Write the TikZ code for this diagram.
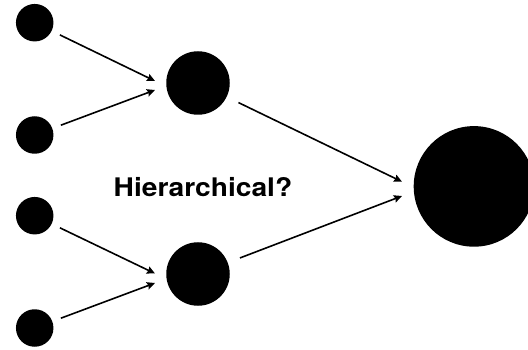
\documentclass[tikz,border=0pt]{standalone}
\usepackage{fontspec}
\setmainfont{TeX Gyre Heros}
\usetikzlibrary{arrows.meta}
\begin{document}
\begin{tikzpicture}[x=1pt,y=-1pt,
  dot/.style={circle,fill=black,inner sep=0pt,minimum size=#1},
  arr/.style={line width=1.6pt,-{Stealth[length=8pt,width=7.5pt,inset=1pt]}},
  lbl/.style={font=\fontsize{25.6}{28}\selectfont\bfseries}]
  \useasboundingbox (0,0) rectangle (528,350);
  \clip (0,0) rectangle (528,350);
  % input layer
  \node[dot=37.5pt] (l1) at (34.7,22.7) {};
  \node[dot=37.5pt] (l2) at (34.7,135) {};
  \node[dot=37.5pt] (l3) at (34.7,215.7) {};
  \node[dot=37.5pt] (l4) at (34.7,328) {};
  % hidden layer
  \node[dot=63.5pt] (m1) at (198,83) {};
  \node[dot=63.5pt] (m2) at (198,274) {};
  % output
  \node[dot=120.6pt] (o) at (474,186.4) {};
  % arrow tips, kept apart at each target
  \coordinate (t1) at (155,81);
  \coordinate (t2) at (155,90);
  \coordinate (t3) at (155,273.5);
  \coordinate (t4) at (155,283);
  \coordinate (t5) at (402,181.7);
  \coordinate (t6) at (402,196);
  \draw[arr,shorten <=9pt] (l1) -- (t1);
  \draw[arr,shorten <=9pt] (l2) -- (t2);
  \draw[arr,shorten <=9pt] (l3) -- (t3);
  \draw[arr,shorten <=9pt] (l4) -- (t4);
  \draw[arr,shorten <=13pt] (m1) -- (t5);
  \draw[arr,shorten <=13pt] (m2) -- (t6);
  % caption
  \node[lbl,anchor=base,inner sep=0pt] (q) at (203,196.7) {\scalebox{1.1}[1]{Hierarchical?}};
\end{tikzpicture}
\end{document}
